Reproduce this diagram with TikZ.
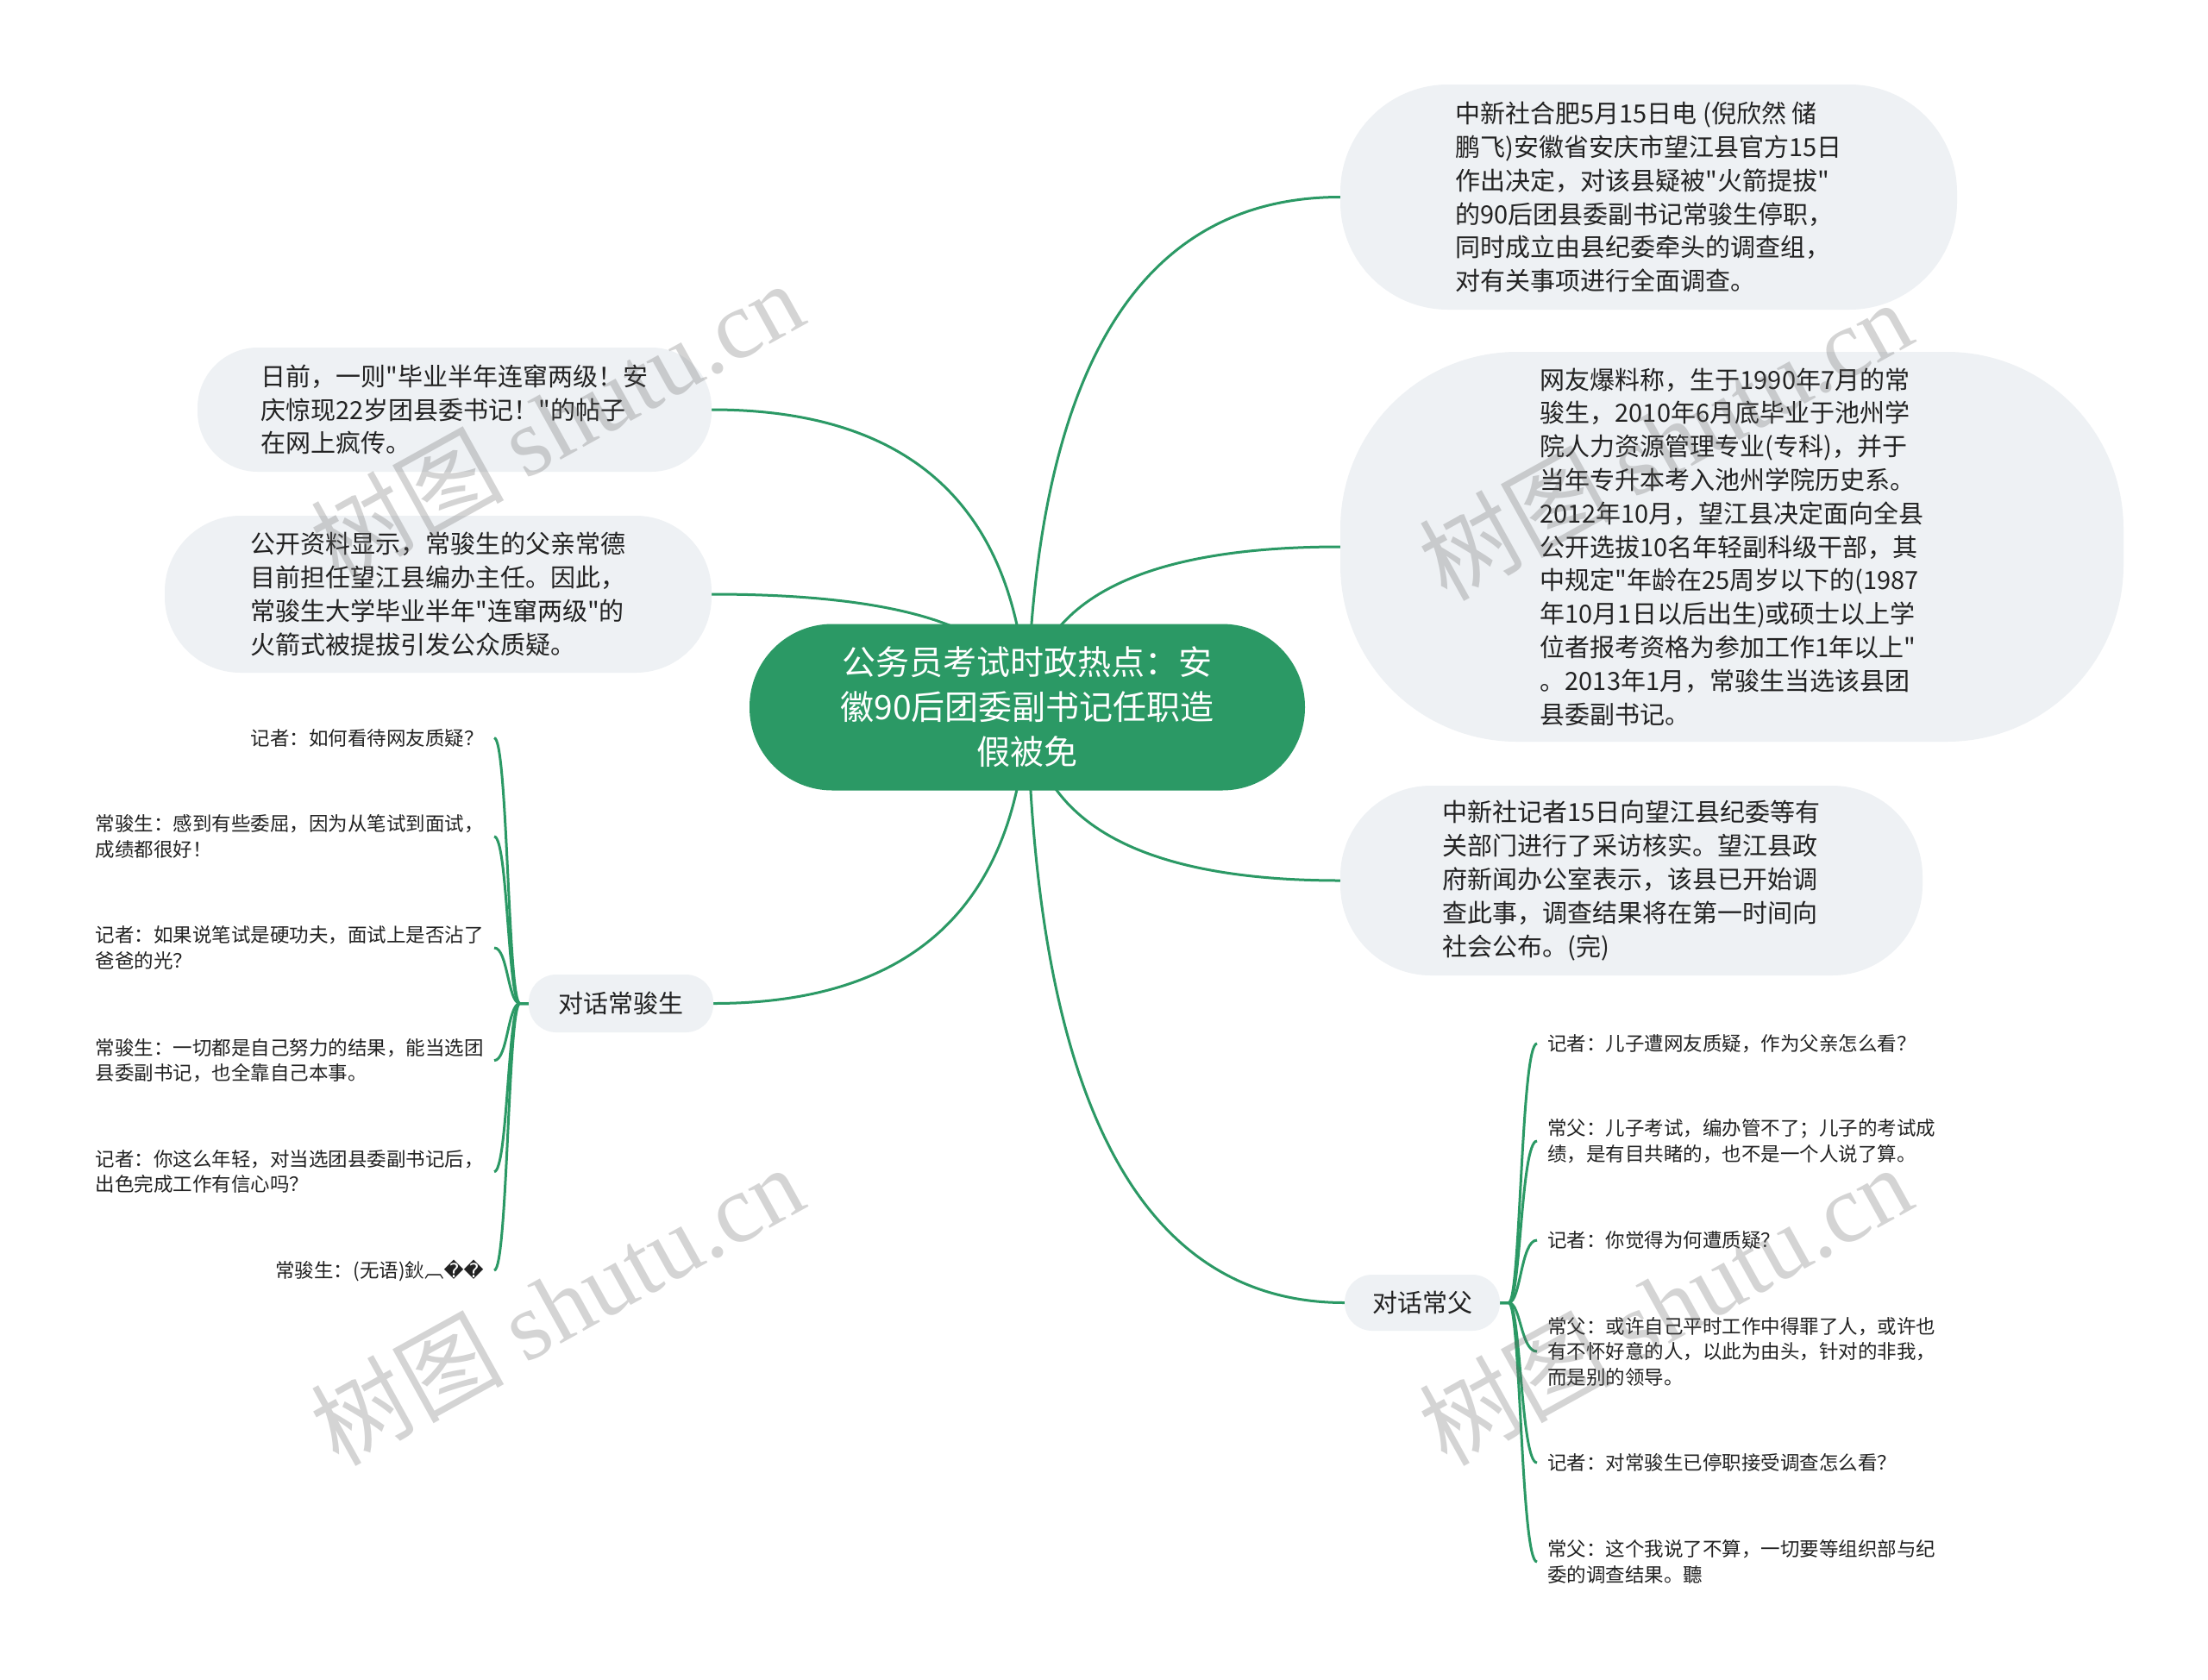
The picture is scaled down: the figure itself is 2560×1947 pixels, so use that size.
\documentclass[tikz,border=0pt]{standalone}
\usepackage{fontspec}
\setmainfont{Noto Sans CJK SC}[Ligatures=TeXOff]
\newfontfamily\wmlatin{Liberation Serif}
\newfontfamily\dvs{DejaVu Sans}
\usetikzlibrary{calc}
\definecolor{mmgreen}{RGB}{43,153,101}
\definecolor{boxfill}{RGB}{238,241,244}
\definecolor{txtc}{RGB}{34,34,34}
\pgfdeclarelayer{bglayer}
\pgfdeclarelayer{edgelayer}
\pgfdeclarelayer{wmlayer}
\pgfsetlayers{bglayer,edgelayer,main,wmlayer}
\newcommand\rootlink[2]{\draw[edgeline] (root.center) .. controls ($(root.center)!0.6667!(root.center |- #1)+(#2*0.6667,0)$) and ($(#1)!0.6667!(root.center |- #1)+(#2*0.6667,0)$) .. (#1);}
\newcommand\leafL[2]{\draw[edgeline] (#1.west) -- ++(-10,0) .. controls ($(#1.west)+(-24,0)$) and ($(#1.west |- #2.east)+(-24,0)$) .. (#2.east);}
\newcommand\leafR[2]{\draw[edgeline] (#1.east) -- ++(10,0) .. controls ($(#1.east)+(24,0)$) and ($(#1.east |- #2.west)+(24,0)$) .. (#2.west);}
\begin{document}
\begin{tikzpicture}[x=1pt,y=-1pt,
  rootnode/.style={fill=mmgreen, text=white, font=\fontsize{39}{52}\selectfont, align=center, inner sep=0pt, minimum width=644, minimum height=193, rounded corners=96},
  topic/.style={fill=boxfill, text=txtc, font=\fontsize{29}{38.8}\selectfont, align=left, inner sep=0pt},
  subnode/.style={fill=boxfill, text=txtc, font=\fontsize{29}{36}\selectfont, inner sep=0pt, rounded corners=32},
  leafnode/.style={text=txtc, font=\fontsize{22.5}{29.5}\selectfont, align=left, inner xsep=12, inner ysep=4},
  edgeline/.style={draw=mmgreen, line width=3},
  wmark/.style={text=black!60, text opacity=0.28, font=\fontsize{112}{112}\selectfont, rotate=29, inner sep=0pt}]
\useasboundingbox (0,0) rectangle (2560,1947);
\begin{pgfonlayer}{bglayer}
\fill[white] (0,0) rectangle (2560,1947);
\end{pgfonlayer}

\node[rootnode] (root) at (1191,820) {公务员考试时政热点：安\\徽90后团委副书记任职造\\假被免};

\node[topic, minimum width=715, minimum height=261, rounded corners=125] (b1) at (1911.5,228.5) {中新社合肥5月15日电 (倪欣然 储\\鹏飞)安徽省安庆市望江县官方15日\\作出决定，对该县疑被"火箭提拔"\\的90后团县委副书记常骏生停职，\\同时成立由县纪委牵头的调查组，\\对有关事项进行全面调查。};

\node[topic, minimum width=908, minimum height=452, rounded corners=205] (b2) at (2008,634) {网友爆料称，生于1990年7月的常\\骏生，2010年6月底毕业于池州学\\院人力资源管理专业(专科)，并于\\当年专升本考入池州学院历史系。\\2012年10月，望江县决定面向全县\\公开选拔10名年轻副科级干部，其\\中规定"年龄在25周岁以下的(1987\\年10月1日以后出生)或硕士以上学\\位者报考资格为参加工作1年以上"\\。2013年1月，常骏生当选该县团\\县委副书记。};

\node[topic, minimum width=675, minimum height=220, rounded corners=105] (b3) at (1891.5,1021) {中新社记者15日向望江县纪委等有\\关部门进行了采访核实。望江县政\\府新闻办公室表示，该县已开始调\\查此事，调查结果将在第一时间向\\社会公布。(完)};

\node[topic, minimum width=596, minimum height=144, rounded corners=70] (l1) at (527,475) {日前，一则"毕业半年连窜两级！安\\庆惊现22岁团县委书记！"的帖子\\在网上疯传。};

\node[topic, minimum width=634, minimum height=182, rounded corners=88] (l2) at (508,689) {公开资料显示，常骏生的父亲常德\\目前担任望江县编办主任。因此，\\常骏生大学毕业半年"连窜两级"的\\火箭式被提拔引发公众质疑。};

\node[subnode, minimum width=214, minimum height=67] (s1) at (720,1163.5) {对话常骏生};
\node[subnode, minimum width=180, minimum height=65] (s2) at (1649,1510.5) {对话常父};

\node[leafnode, anchor=east] (a1) at (573,855.6) {记者：如何看待网友质疑？};
\node[leafnode, anchor=east] (a2) at (573,970) {常骏生：感到有些委屈，因为从笔试到面试，\\成绩都很好！};
\node[leafnode, anchor=east] (a3) at (573,1099) {记者：如果说笔试是硬功夫，面试上是否沾了\\爸爸的光？};
\node[leafnode, anchor=east] (a4) at (573,1229.6) {常骏生：一切都是自己努力的结果，能当选团\\县委副书记，也全靠自己本事。};
\node[leafnode, anchor=east] (a5) at (573,1358.6) {记者：你这么年轻，对当选团县委副书记后，\\出色完成工作有信心吗？};
\node[leafnode, anchor=east] (a6) at (573,1473) {常骏生：(无语)鈥︹{\dvs ��}};

\node[leafnode, anchor=west] (c1) at (1782,1210) {记者：儿子遭网友质疑，作为父亲怎么看？};
\node[leafnode, anchor=west] (c2) at (1782,1323) {常父：儿子考试，编办管不了；儿子的考试成\\绩，是有目共睹的，也不是一个人说了算。};
\node[leafnode, anchor=west] (c3) at (1782,1438) {记者：你觉得为何遭质疑？};
\node[leafnode, anchor=west] (c4) at (1782,1567) {常父：或许自己平时工作中得罪了人，或许也\\有不怀好意的人，以此为由头，针对的非我，\\而是别的领导。};
\node[leafnode, anchor=west] (c5) at (1782,1696) {记者：对常骏生已停职接受调查怎么看？};
\node[leafnode, anchor=west] (c6) at (1782,1811) {常父：这个我说了不算，一切要等组织部与纪\\委的调查结果。聽};

\begin{pgfonlayer}{edgelayer}
\rootlink{b1.west}{15}
\rootlink{b2.west}{15}
\rootlink{b3.west}{15}
\rootlink{s2.west}{15}
\rootlink{l1.east}{-15}
\rootlink{l2.east}{-15}
\rootlink{s1.east}{-15}
\foreach \n in {a1,a2,a3,a4,a5,a6} {\leafL{s1}{\n}}
\foreach \n in {c1,c2,c3,c4,c5,c6} {\leafR{s2}{\n}}
\end{pgfonlayer}

\begin{pgfonlayer}{wmlayer}
\node[wmark] (w1) at (645,488) {树图 {\wmlatin shutu.cn}};
\node[wmark] (w2) at (645,1513) {树图 {\wmlatin shutu.cn}};
\node[wmark] (w3) at (1930,510) {树图 {\wmlatin shutu.cn}};
\node[wmark] (w4) at (1930,1513) {树图 {\wmlatin shutu.cn}};
\end{pgfonlayer}
\end{tikzpicture}
\end{document}
